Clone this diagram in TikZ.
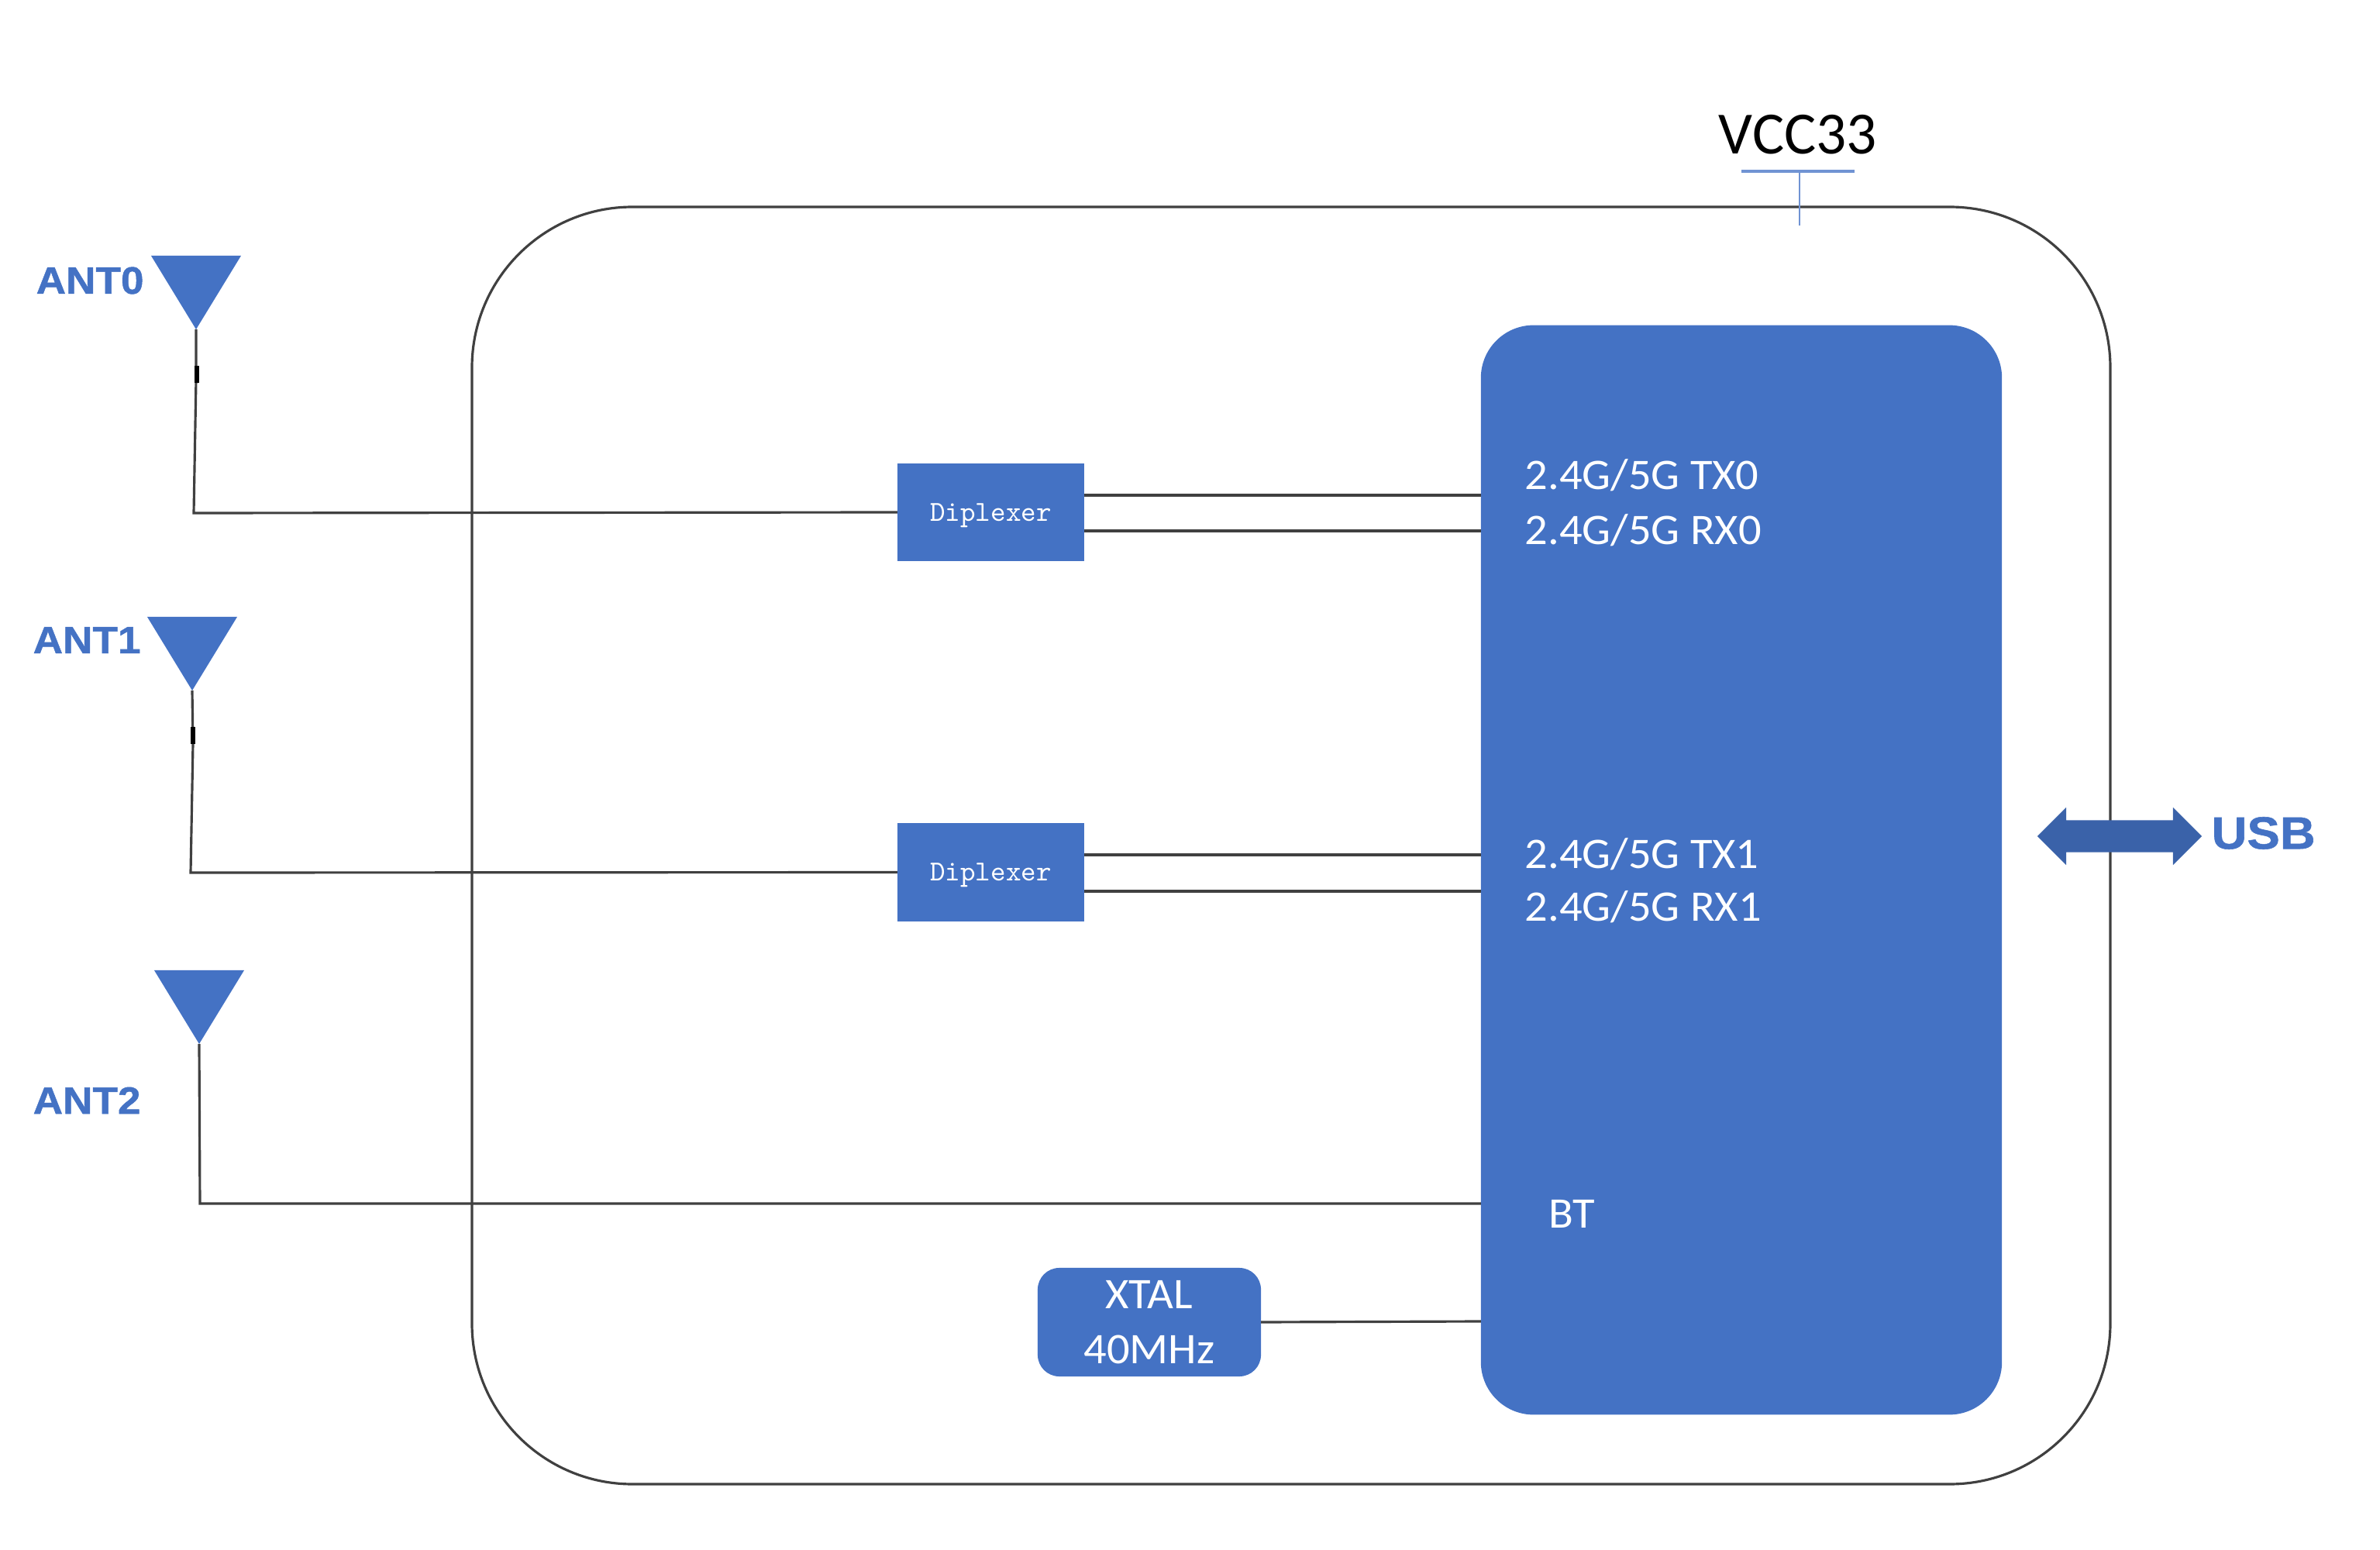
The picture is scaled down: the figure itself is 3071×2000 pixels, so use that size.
\documentclass[tikz,border=0pt]{standalone}
\usepackage{fontspec}
\setmainfont{Carlito}
\newfontfamily\portfont[FakeStretch=1.04]{Carlito}
\newfontfamily\antfont[BoldFeatures={FakeBold=1,FakeStretch=1.08}]{Liberation Sans}
\usetikzlibrary{shapes.geometric,shapes.arrows}
\definecolor{chipblue}{HTML}{4472C4}
\definecolor{arrowblue}{HTML}{3A62A9}
\definecolor{stubblue}{HTML}{7093D3}
\definecolor{wiregray}{HTML}{404040}
\tikzset{
	antenna/.style={isosceles triangle,isosceles triangle stretches,shape border rotate=-90,fill=chipblue,minimum width=1.16cm,minimum height=0.95cm,inner sep=0pt,outer sep=0pt,anchor=apex},
	antlabel/.style={text=chipblue,font=\antfont\fontsize{14}{17}\selectfont\bfseries,inner sep=0pt,anchor=west},
	dipbox/.style={fill=chipblue,text=white,minimum width=2.41cm,minimum height=1.26cm,inner sep=0pt,outer sep=0pt,text height=0.22cm,text depth=0cm,font=\fontsize{10.6}{12}\selectfont\ttfamily},
	port/.style={text=white,font=\portfont\fontsize{16}{19}\selectfont,inner sep=0pt,anchor=west},
	wire/.style={draw=wiregray,line width=0.9pt},
}
\begin{document}
\begin{tikzpicture}[x=0.01cm,y=-0.01cm]
		\useasboundingbox (0,0) rectangle (3071,2000);
		\draw[wiregray,line width=0.9pt,rounded corners=2.07cm] (609,267) rectangle (2723,1915);
		%%%%%%%
		\node(chip)[anchor=center,fill=chipblue,rounded corners=0.68cm,minimum width=6.72cm,minimum height=14.05cm,inner sep=0pt,outer sep=0pt] at (2247,1122.5) {};
		\node(tx0)[port] at (1967,613) {2.4G/5G TX0};
		\node(rx0)[port] at (1967,684) {2.4G/5G RX0};
		\node(tx1)[port] at (1967,1102) {2.4G/5G TX1};
		\node(rx1)[port] at (1967,1170) {2.4G/5G RX1};
		\node(bt)[port] at (1998,1566) {BT};
		%%%%%%%
		\node(dip0)[dipbox] at (1278.5,661) {Diplexer};
		\node(dip1)[dipbox] at (1278.5,1125.5) {Diplexer};
		\node(xtal)[anchor=center,fill=chipblue,text=white,rounded corners=0.28cm,minimum width=2.88cm,minimum height=1.40cm,inner sep=0pt,outer sep=0pt,align=center,font=\portfont\fontsize{16}{20.2}\selectfont] at (1483,1706) {XTAL\\40MHz};
		%%%%%%%
		\node(ant0)[antenna] at (253,425) {};
		\node(ant1)[antenna] at (248,891) {};
		\node(ant2)[antenna] at (257,1347) {};
		\node(lant0)[antlabel] at (46,362) {ANT0};
		\node(lant1)[antlabel] at (42,826) {ANT1};
		\node(lant2)[antlabel] at (42,1420) {ANT2};
		%%%%%%%
		\draw[wire] (ant0.apex) -- (253,490) -- (250,662) -- (dip0.west);
		\draw[wire] (ant1.apex) -- (249,960) -- (246,1126) -- (dip1.west);
		\draw[wire] (ant2.apex) -- (258,1553) -- (chip.west |- 0,1553);
		\draw[black,line width=1.5pt] (ant0.apex) ++(1,47) -- ++(0,22);
		\draw[black,line width=1.5pt] (ant1.apex) ++(1,47) -- ++(0,22);
		\draw[wire] (dip0.east |- 0,639) -- (chip.west |- 0,639);
		\draw[wire] (dip0.east |- 0,685) -- (chip.west |- 0,685);
		\draw[wire] (dip1.east |- 0,1103) -- (chip.west |- 0,1103);
		\draw[wire] (dip1.east |- 0,1150) -- (chip.west |- 0,1150);
		\draw[wire] (xtal.east) -- (chip.west |- 0,1705);
		%%%%%%%
		\node(vcc)[anchor=center,inner sep=0pt,font=\fontsize{22}{26}\selectfont] at (2320,174) {VCC33};
		\coordinate (vccbar) at (2322,221);
		\coordinate (vccend) at (2322,291);
		\draw[stubblue,line width=1pt] (2247,221) -- (2393,221);
		\draw[stubblue,line width=0.8pt] (vccbar) -- (vccend);
		%%%%%%%
		\node(usbarrow)[anchor=center,double arrow,fill=arrowblue,minimum height=2.12cm,double arrow head extend=0.165cm,inner xsep=0pt,inner ysep=0.2cm,outer sep=0pt] at (2735,1079) {};
		\node(usb)[anchor=west,inner sep=0pt,text=chipblue,font=\antfont\fontsize{16.7}{22}\selectfont\bfseries] at (2853,1075) {USB};
		\end{tikzpicture}
\end{document}
